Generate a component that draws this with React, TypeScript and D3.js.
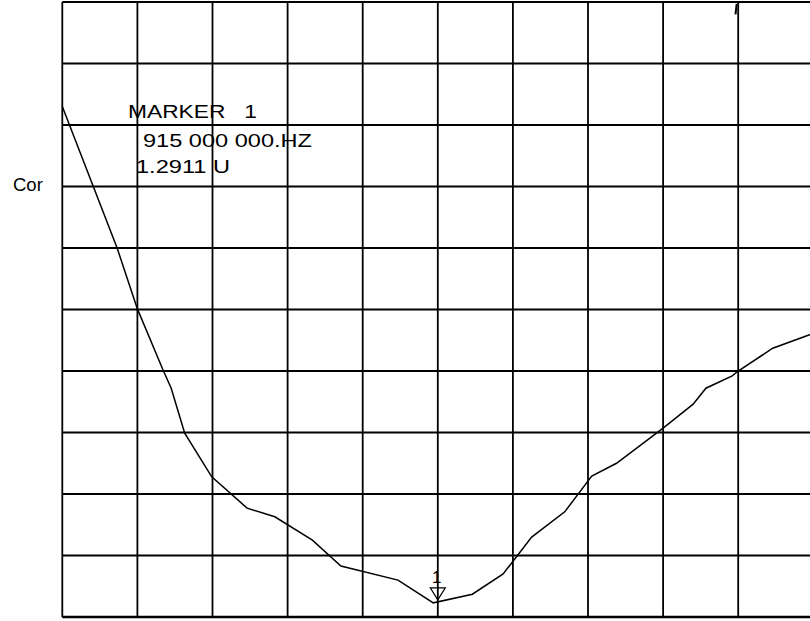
import React, { useEffect, useRef } from 'react';
import * as d3 from 'd3';

// trace in screen divisions (10 x 10 graticule)
const traceX = [0, 0.73, 1.0, 1.34, 1.45, 1.63, 1.99, 2.46, 2.83, 3.33, 3.71, 4.47, 4.94, 5.46, 5.87, 6.25, 6.69, 7.05, 7.38, 8.0, 8.4, 8.57, 8.92, 9.0, 9.46, 9.95, 10];
const traceY = [8.3, 6.0, 5.01, 4.02, 3.72, 2.99, 2.28, 1.77, 1.63, 1.25, 0.83, 0.6, 0.23, 0.37, 0.7, 1.3, 1.71, 2.29, 2.5, 3.07, 3.46, 3.72, 3.92, 4.0, 4.37, 4.59, 4.62];

// short stub of a second trace near the top edge
const stubX = [8.98, 8.964];
const stubY = [9.97, 9.8];

const divisions = d3.range(0, 11);

const markerDiv = 5;
const markerLines = ['MARKER   1', '915 000 000.HZ', '1.2911 U'];
const yLabel = 'Cor';

const W = 810;
const H = 621;
const margin = { top: 2, left: 62.3, bottom: 4 };

export default function App() {
  const ref = useRef<SVGSVGElement>(null);

  useEffect(() => {
    if (!ref.current) return;
    const svg = d3.select(ref.current);
    svg.selectAll('*').remove();

    const x = d3.scaleLinear().domain([0, 10]).range([margin.left, margin.left + 751]);
    const y = d3.scaleLinear().domain([0, 10]).range([H - margin.bottom, margin.top]);

    const grid = svg.append('g').attr('stroke', '#000').attr('stroke-width', 1.8);

    grid
      .selectAll('line.v')
      .data(divisions)
      .join('line')
      .attr('class', 'v')
      .attr('x1', d => x(d))
      .attr('x2', d => x(d))
      .attr('y1', y(0))
      .attr('y2', y(10));

    grid
      .selectAll('line.h')
      .data(divisions)
      .join('line')
      .attr('class', 'h')
      .attr('x1', x(0))
      .attr('x2', x(10))
      .attr('y1', d => y(d))
      .attr('y2', d => y(d))
      .attr('stroke-width', d => (d === 0 ? 2.4 : 1.8));

    const line = d3
      .line<number>()
      .x((_, i) => x(traceX[i]))
      .y(d => y(d));

    svg
      .append('path')
      .attr('d', line(traceY))
      .attr('fill', 'none')
      .attr('stroke', '#000')
      .attr('stroke-width', 1.5);

    svg
      .append('path')
      .attr('d', d3.line<number>().x((_, i) => x(stubX[i])).y(d => y(d))(stubY))
      .attr('fill', 'none')
      .attr('stroke', '#000')
      .attr('stroke-width', 2);

    // marker triangle
    const mx = x(markerDiv);
    const tipY = y(0.28);
    svg
      .append('path')
      .attr('d', `M${mx - 7.5},${tipY - 12}L${mx + 7.5},${tipY - 12}L${mx},${tipY}Z`)
      .attr('fill', 'none')
      .attr('stroke', '#000')
      .attr('stroke-width', 1.2);

    svg
      .append('text')
      .attr('x', mx - 1)
      .attr('y', tipY - 17)
      .attr('text-anchor', 'middle')
      .attr('font-family', 'Arial, "Liberation Sans", sans-serif')
      .attr('font-size', 17)
      .text('1');

    const txt = svg
      .append('g')
      .attr('font-family', 'Arial, "Liberation Sans", sans-serif')
      .attr('font-size', 18.5)
      .attr('fill', '#000');

    const pos = [
      { x: 128, y: 118, len: 129 },
      { x: 143, y: 147, len: 169 },
      { x: 136, y: 173, len: 94 }
    ];
    markerLines.forEach((s, i) => {
      txt
        .append('text')
        .attr('x', pos[i].x)
        .attr('y', pos[i].y)
        .attr('textLength', pos[i].len)
        .attr('lengthAdjust', 'spacingAndGlyphs')
        .attr('xml:space', 'preserve')
        .style('white-space', 'pre')
        .text(s);
    });

    svg
      .append('text')
      .attr('x', 13)
      .attr('y', 191)
      .attr('font-family', 'Arial, "Liberation Sans", sans-serif')
      .attr('font-size', 18.5)
      .text(yLabel);
  }, []);

  return (
    <div style={{ position: 'fixed', left: 0, top: 0, width: W, height: H, background: '#fff' }}>
      <svg ref={ref} width={W} height={H} style={{ display: 'block' }} />
    </div>
  );
}
